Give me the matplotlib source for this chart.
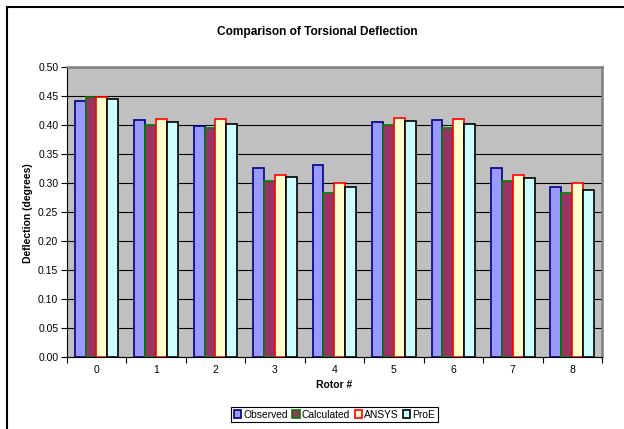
import numpy as np
import matplotlib
matplotlib.use("Agg")
import matplotlib.pyplot as plt
from matplotlib.patches import Patch, Rectangle

plt.rcParams['font.family'] = ['Liberation Sans', 'DejaVu Sans']

# Torsional deflection per rotor (degrees)
rotors = ['0', '1', '2', '3', '4', '5', '6', '7', '8']
observed = [0.440, 0.408, 0.398, 0.325, 0.331, 0.404, 0.408, 0.325, 0.293]
calculated = [0.448, 0.400, 0.394, 0.303, 0.283, 0.400, 0.394, 0.303, 0.283]
ansys = [0.448, 0.410, 0.409, 0.313, 0.300, 0.411, 0.409, 0.314, 0.300]
proe = [0.445, 0.405, 0.402, 0.309, 0.292, 0.406, 0.401, 0.308, 0.287]

series_names = ['Observed', 'Calculated', 'ANSYS', 'ProE']
face_colors = ['#9999FF', '#993366', '#FFFFCC', '#CCFFFF']
edge_colors = ['#000080', '#008000', '#FF0000', '#000000']

W, H = 624, 429
fig = plt.figure(figsize=(W / 100, H / 100), dpi=100)
ax = fig.add_axes([66.7 / W, 1 - 356.7 / H, (602 - 66.7) / W, 290 / H])
ax.set_facecolor('#C0C0C0')

x = np.arange(len(rotors))
bar_w = 0.183
all_series = [observed, calculated, ansys, proe]
for i, vals in enumerate(all_series):
    ax.bar(x + (i - 1.5) * bar_w, vals, width=bar_w, color=face_colors[i],
           edgecolor=edge_colors[i], linewidth=1.2, zorder=3)

ax.set_xlim(-0.5, len(rotors) - 0.5)
ax.set_ylim(0, 0.5)
ax.set_yticks(np.arange(0, 0.501, 0.05))
ax.set_yticklabels([f"{v:.2f}" for v in np.arange(0, 0.501, 0.05)], fontsize=7.5)
ax.yaxis.grid(True, color='black', linewidth=0.8, zorder=1)
ax.set_axisbelow(True)

# tick marks sit between categories, labels at the centres
ax.set_xticks(np.arange(-0.5, len(rotors), 1))
ax.set_xticklabels([])
ax.set_xticks(x, minor=True)
ax.set_xticklabels(rotors, minor=True, fontsize=7.5)
ax.tick_params(axis='x', which='minor', length=0, pad=6)
ax.tick_params(axis='x', which='major', length=4, width=0.8, direction='out')
ax.tick_params(axis='y', length=4, width=0.8, direction='out', pad=2)

for side in ['top', 'right']:
    ax.spines[side].set_color('#808080')
    ax.spines[side].set_linewidth(1.8)
for side in ['left', 'bottom']:
    ax.spines[side].set_color('black')
    ax.spines[side].set_linewidth(0.8)

fig.text(317.6 / W, 1 - 31.5 / H, 'Comparison of Torsional Deflection',
         ha='center', va='center', fontsize=8.6, fontweight='bold')
fig.text(334 / W, 1 - 385 / H, 'Rotor #', ha='center', va='center',
         fontsize=7.5, fontweight='bold')
fig.text(28 / W, 1 - 213 / H, 'Deflection (degrees)', ha='center', va='center',
         rotation=90, fontsize=7.5, fontweight='bold')

handles = [Patch(facecolor=face_colors[i], edgecolor=edge_colors[i], linewidth=1.2)
           for i in range(4)]
leg = fig.legend(handles, series_names, loc='center', ncol=4,
                 bbox_to_anchor=(334.5 / W, 1 - 414.5 / H), fontsize=7.4,
                 handlelength=0.7, handleheight=0.7, handletextpad=0.2,
                 columnspacing=0.45, borderpad=0.25, fancybox=False,
                 framealpha=1, edgecolor='black')
leg.get_frame().set_linewidth(0.8)

# chart border, running off the right and bottom edges
fig.add_artist(Rectangle((7 / W, -0.05), 1.1, 1 - 7 / H + 0.05,
                         transform=fig.transFigure, fill=False,
                         edgecolor='black', linewidth=1.5, clip_on=False))

fig.savefig('out.png', dpi=100)
